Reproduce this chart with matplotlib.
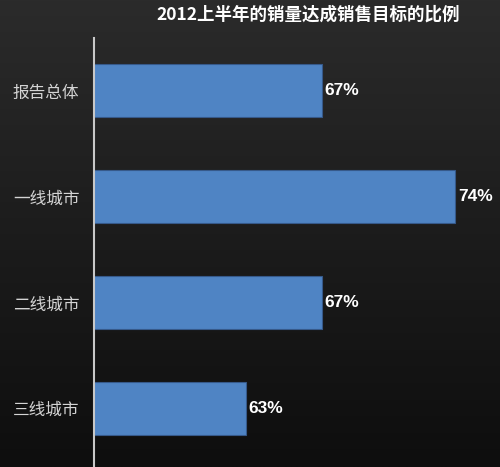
import numpy as np
import matplotlib.pyplot as plt

# 数据
categories = ['报告总体', '一线城市', '二线城市', '三线城市']
values = [67, 74, 67, 63]
title = '2012上半年的销量达成销售目标的比例'

plt.rcParams['font.family'] = ['Noto Sans CJK SC', 'DejaVu Sans']

fig = plt.figure(figsize=(5, 4.67), dpi=100)

# 背景渐变
bg = fig.add_axes([0, 0, 1, 1], zorder=0)
grad = np.linspace(0, 1, 256).reshape(-1, 1)
bg.imshow(grad, aspect='auto', cmap=plt.matplotlib.colors.LinearSegmentedColormap.from_list(
    'bg', ['#2b2b2b', '#1c1c1c', '#0e0e0e']), extent=[0, 1, 0, 1])
bg.axis('off')

ax = fig.add_axes([94 / 500, 0, 1 - 94 / 500, 1 - 38 / 467], zorder=1)
ax.patch.set_alpha(0)

y = np.arange(len(categories))
ax.barh(y, values, height=0.5, left=0, color='#4f84c4', edgecolor='#36598a', linewidth=0.8)

ax.set_xlim(55, 55 + 406 / 19)
ax.set_ylim(3.55, -0.5)

for yi, v in zip(y, values):
    ax.text(v + 0.15, yi, f'{v}%', color='white', fontsize=12.5, fontweight='bold',
            va='center', ha='left', family=['Liberation Sans', 'DejaVu Sans'])

ax.set_yticks(y)
ax.set_yticklabels(categories, color='#d4d4d4', fontsize=12)
ax.tick_params(axis='y', length=0, pad=10.5)
ax.set_xticks([])

for s in ['top', 'right', 'bottom']:
    ax.spines[s].set_visible(False)
ax.spines['left'].set_color('#c8c8c8')
ax.spines['left'].set_linewidth(1.5)

fig.text(0.617, 0.968, title, color='white', fontsize=12.6, fontweight='bold',
         ha='center', va='center')

fig.savefig('out.png', dpi=100)
